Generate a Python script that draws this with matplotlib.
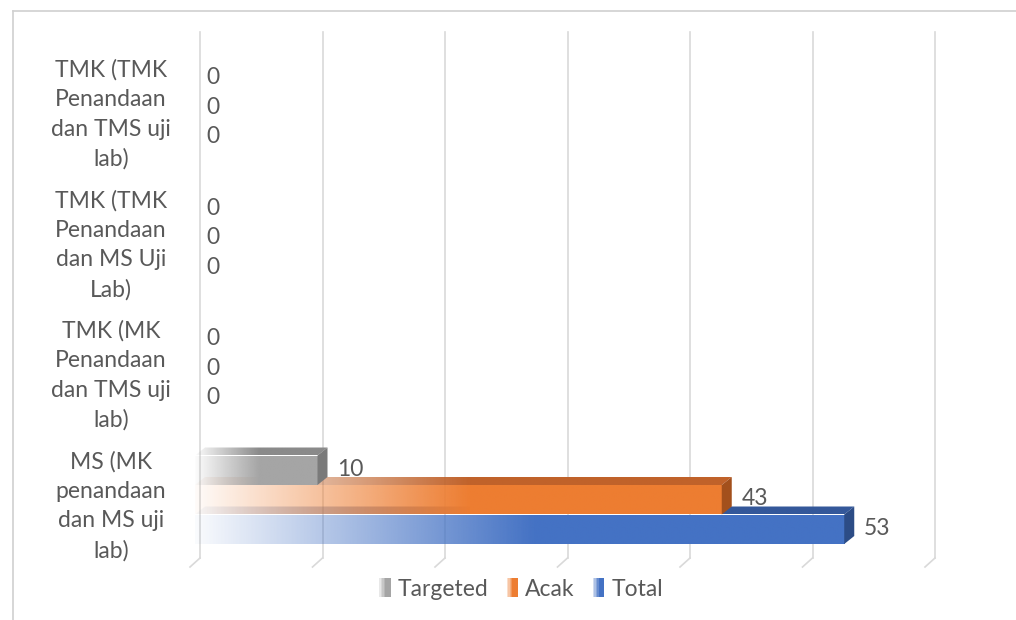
import numpy as np
import matplotlib
matplotlib.use("Agg")
import matplotlib.pyplot as plt
from matplotlib.patches import Polygon, Rectangle, Patch
from matplotlib.lines import Line2D
from matplotlib.legend_handler import HandlerBase
from matplotlib.colors import to_rgb

# ---------------- data ----------------
categories = [
    "MS (MK\npenandaan\ndan MS uji\nlab)",
    "TMK (MK\nPenandaan\ndan TMS uji\nlab)",
    "TMK (TMK\nPenandaan\ndan MS Uji\nLab)",
    "TMK (TMK\nPenandaan\ndan TMS uji\nlab)",
]
series_names = ["Targeted", "Acak", "Total"]
targeted = [10, 0, 0, 0]
acak = [43, 0, 0, 0]
total = [53, 0, 0, 0]
x_ticks = [0, 10, 20, 30, 40, 50, 60]

# ---------------- style ----------------
FONT = ["Lato", "DejaVu Sans"]
plt.rcParams["font.family"] = FONT
TXT = "#595959"
GRID = "#D9D9D9"
FS = 16.5
front_cols = ["#A5A5A5", "#ED7D31", "#4472C4"]
top_cols = ["#8A8A8A", "#C0622A", "#34589A"]
side_cols = ["#7A7A7A", "#A3501C", "#2C4C86"]

W, H = 1016, 620
fig = plt.figure(figsize=(W / 100, H / 100), dpi=100)
fig.patch.set_facecolor("white")

L, R, B, T = 195, 930, 565, 43
ax = fig.add_axes([L / W, (H - B) / H, (R - L) / W, (B - T) / H])
XMAX = 60
sx = XMAX / (R - L)          # data units per pixel (x)
sy = 4.0 / (B - T)           # data units per pixel (y)

for s in ax.spines.values():
    s.set_visible(False)

# chart border (left + top)
fig.add_artist(Line2D([13 / W, 13 / W], [0, 1 - 11 / H], transform=fig.transFigure,
                      color="#D0D0D0", lw=1.2))
fig.add_artist(Line2D([13 / W, 1], [1 - 11 / H, 1 - 11 / H], transform=fig.transFigure,
                      color="#D0D0D0", lw=1.2))

# gridlines on back wall with floor feet
xt = ax.get_xaxis_transform()
ymin_g = (B - 558) / (B - T)
ymax_g = (B - 32) / (B - T)
yfoot = (B - 567) / (B - T)
for t in x_ticks:
    gx = t + 5 * sx
    ax.plot([gx, gx], [ymin_g, ymax_g], transform=xt, color=GRID, lw=1.2,
            clip_on=False, zorder=0)
    ax.plot([gx, gx - 10 * sx], [ymin_g, yfoot], transform=xt, color=GRID, lw=1.2,
            clip_on=False, zorder=0)

bh = 29.5 * sy
dx = 10 * sx
dy = 8 * sy
offsets = [bh, 0.0, -bh]
series = [targeted, acak, total]
ypos = np.arange(len(categories))


def gradient_fill(patch, color, x0, x1, y0, y1, vlen, z):
    n = 300
    xs = np.linspace(x0, x1, n)
    alpha = np.clip(0.03 + 0.97 * xs / (0.52 * vlen), 0, 1)
    img = np.zeros((1, n, 4))
    img[..., :3] = to_rgb(color)
    img[..., 3] = alpha
    im = ax.imshow(img, extent=[x0, x1, y0, y1], aspect="auto", zorder=z,
                   interpolation="bilinear", origin="lower")
    im.set_clip_path(patch)


# draw back-to-front: Total (bottom) first, Targeted last
for si in [2, 1, 0]:
    vals = series[si]
    z = 2 + (2 - si)
    bars = ax.barh(ypos + offsets[si], vals, height=bh, color="none",
                   edgecolor="none", zorder=z)
    for rect, v in zip(bars, vals):
        yb = rect.get_y()
        yt = yb + rect.get_height()
        if v > 0:
            gradient_fill(rect, front_cols[si], 0, v, yb, yt, v, z)
            top = Polygon([(0, yt), (v, yt), (v + dx, yt + dy), (dx, yt + dy)],
                          closed=True, facecolor="none", edgecolor="none", zorder=z)
            ax.add_patch(top)
            gradient_fill(top, top_cols[si], 0, v + dx, yt, yt + dy, v, z)
            side = Polygon([(v, yt), (v + dx, yt + dy), (v + dx, yb + dy), (v, yb)],
                           closed=True, facecolor=side_cols[si], edgecolor="none",
                           zorder=z)
            ax.add_patch(side)
            off = 20
        else:
            off = 11
        ax.annotate(f"{v}", xy=(v, (yb + yt) / 2), xytext=(off, 1),
                    textcoords="offset pixels", ha="left", va="center",
                    fontsize=FS, color=TXT, zorder=10)

ax.set_xlim(0, XMAX)
ax.set_ylim(-0.5, 3.5)
ax.set_xticks([])
ax.set_yticks(ypos)
ax.set_yticklabels(categories, fontsize=FS, color=TXT, linespacing=1.5)
for lab in ax.get_yticklabels():
    lab.set_ha("center")
    lab.set_multialignment("center")
ax.tick_params(axis="y", length=0, pad=84 * 0.72)


# legend with gradient markers
class GradHandler(HandlerBase):
    def __init__(self, color):
        super().__init__()
        self.color = color

    def create_artists(self, legend, orig_handle, xdescent, ydescent, width, height,
                       fontsize, trans):
        arts = []
        n = 8
        w = width / n
        for i in range(n):
            a = min(1.0, 0.25 + 0.75 * i / (n * 0.5))
            r = Rectangle((-xdescent + i * w, -ydescent - height * 0.1), w * 1.05,
                          height * 1.2, facecolor=self.color, alpha=a,
                          edgecolor="none", transform=trans)
            arts.append(r)
        return arts


handles = [Patch(color=c, label=n) for c, n in zip(front_cols, series_names)]
fig.legend(handles=handles, labels=series_names, loc="center",
           bbox_to_anchor=(521 / W, 1 - 589 / H), ncol=3, frameon=False,
           fontsize=FS, labelcolor=TXT, handlelength=0.5, handleheight=0.7,
           handletextpad=0.3, columnspacing=0.8,
           handler_map={h: GradHandler(c) for h, c in zip(handles, front_cols)})

fig.savefig("out.png", dpi=100, facecolor="white")
